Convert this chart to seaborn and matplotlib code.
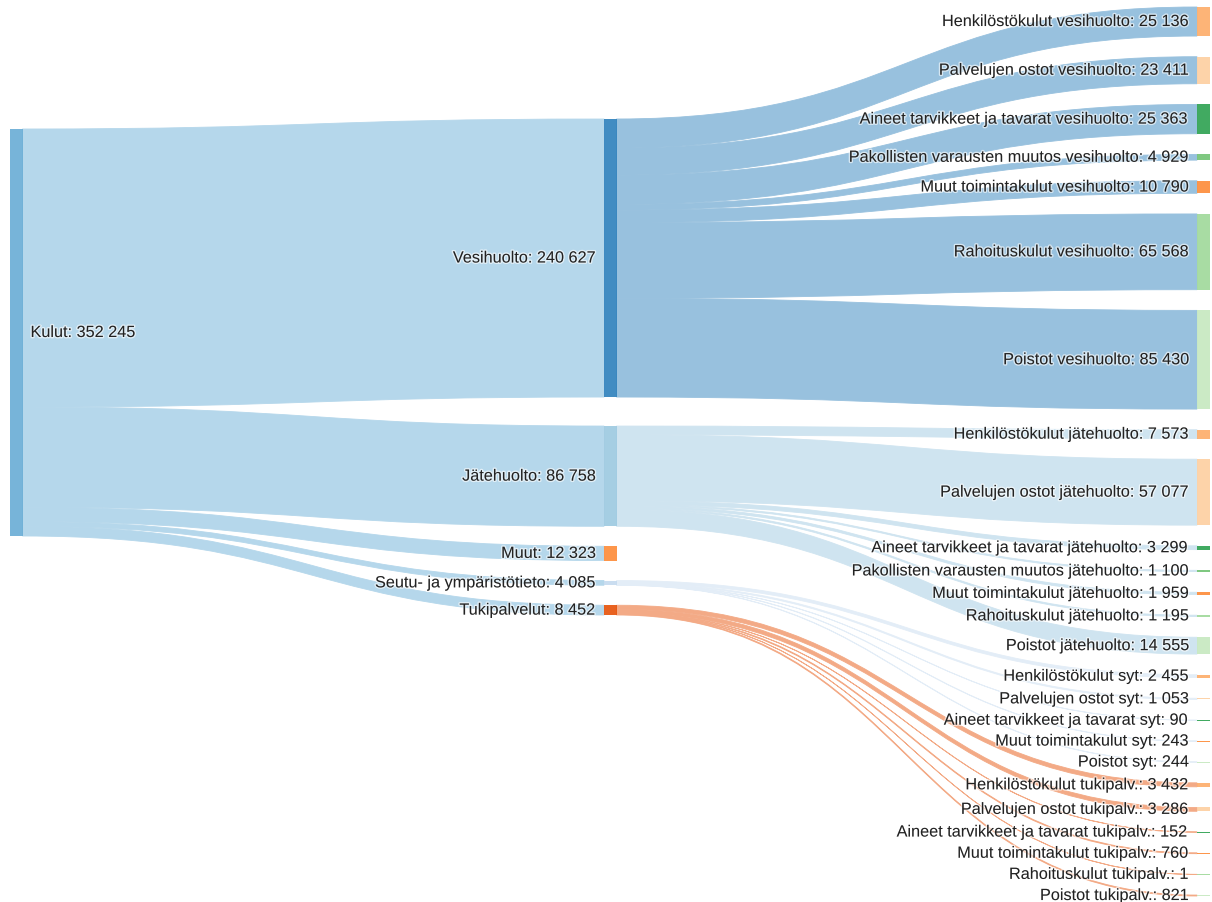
import matplotlib
matplotlib.use("Agg")
import matplotlib.pyplot as plt
import matplotlib.patheffects as pe
from matplotlib.path import Path
from matplotlib.patches import PathPatch, Rectangle
import seaborn as sns

# --- data ---------------------------------------------------------------
root_name = "Kulut"
root_value = 352245

level1_names = ["Vesihuolto", "Jätehuolto", "Muut", "Seutu- ja ympäristötieto", "Tukipalvelut"]
level1_values = [240627, 86758, 12323, 4085, 8452]

vesi_names = ["Henkilöstökulut vesihuolto", "Palvelujen ostot vesihuolto",
              "Aineet tarvikkeet ja tavarat vesihuolto", "Pakollisten varausten muutos vesihuolto",
              "Muut toimintakulut vesihuolto", "Rahoituskulut vesihuolto", "Poistot vesihuolto"]
vesi_values = [25136, 23411, 25363, 4929, 10790, 65568, 85430]

jate_names = ["Henkilöstökulut jätehuolto", "Palvelujen ostot jätehuolto",
              "Aineet tarvikkeet ja tavarat jätehuolto", "Pakollisten varausten muutos jätehuolto",
              "Muut toimintakulut jätehuolto", "Rahoituskulut jätehuolto", "Poistot jätehuolto"]
jate_values = [7573, 57077, 3299, 1100, 1959, 1195, 14555]

syt_names = ["Henkilöstökulut syt", "Palvelujen ostot syt", "Aineet tarvikkeet ja tavarat syt",
             "Muut toimintakulut syt", "Poistot syt"]
syt_values = [2455, 1053, 90, 243, 244]

tuki_names = ["Henkilöstökulut tukipalv.", "Palvelujen ostot tukipalv.",
              "Aineet tarvikkeet ja tavarat tukipalv.", "Muut toimintakulut tukipalv.",
              "Rahoituskulut tukipalv.", "Poistot tukipalv."]
tuki_values = [3432, 3286, 152, 760, 1, 821]

# cost type of each level-2 node (used for colour)
vesi_types = ["henk", "palv", "aine", "pako", "muut", "raho", "pois"]
jate_types = ["henk", "palv", "aine", "pako", "muut", "raho", "pois"]
syt_types = ["henk", "palv", "aine", "muut", "pois"]
tuki_types = ["henk", "palv", "aine", "muut", "raho", "pois"]

# --- style --------------------------------------------------------------
pal = sns.color_palette("tab20c")
root_color = pal[1]
level1_colors = [pal[0], pal[2], pal[5], pal[3], pal[4]]
type_colors = {"henk": pal[6], "palv": pal[7], "aine": pal[8], "pako": pal[9],
               "muut": pal[5], "raho": pal[10], "pois": pal[11]}

W, H = 1212, 903
scale = 407.0 / root_value          # pixels per unit
node_w = 12.5
col_x = [10, 604, 1197]
root_top = 130
col1_top = 120
col1_gaps = [29, 20, 20, 20]
col2_top = 8
col2_bottom = 897
link_mix = 0.5                      # share of node colour in link colour (rest white)
node_alpha = 0.92

sns.set_theme(style="white")
plt.rcParams["font.family"] = ["Liberation Sans", "DejaVu Sans"]

fig = plt.figure(figsize=(W / 100, H / 100), dpi=100)
ax = fig.add_axes([0, 0, 1, 1])
ax.set_xlim(0, W)
ax.set_ylim(H, 0)
ax.axis("off")


def fmt(v):
    return f"{v:,}".replace(",", " ")


def lighten(c):
    return tuple(link_mix * x + (1 - link_mix) for x in c[:3])


def draw_link(x0, y0a, y0b, x1, y1a, y1b, color):
    xm = (x0 + x1) / 2
    verts = [(x0, y0a), (xm, y0a), (xm, y1a), (x1, y1a),
             (x1, y1b), (xm, y1b), (xm, y0b), (x0, y0b), (x0, y0a)]
    codes = [Path.MOVETO, Path.CURVE4, Path.CURVE4, Path.CURVE4,
             Path.LINETO, Path.CURVE4, Path.CURVE4, Path.CURVE4, Path.CLOSEPOLY]
    c = lighten(color)
    ax.add_patch(PathPatch(Path(verts, codes), facecolor=c, edgecolor=c,
                           linewidth=0.6, zorder=1))


def draw_node(x, y, h, color):
    ax.add_patch(Rectangle((x, y), node_w, max(h, 0.8), facecolor=color,
                           edgecolor="none", alpha=node_alpha, zorder=3))


halo = [pe.withStroke(linewidth=2, foreground="white", alpha=0.6)]


def label(x, y, text, ha):
    ax.text(x, y, text, ha=ha, va="center", fontsize=11.7, color="#222222",
            zorder=4, path_effects=halo)


# --- layout: column 1 ----------------------------------------------------
l1_tops = []
y = col1_top
for i, v in enumerate(level1_values):
    l1_tops.append(y)
    y += v * scale
    if i < len(col1_gaps):
        y += col1_gaps[i]

# --- layout: column 2 ----------------------------------------------------
groups = [(0, vesi_names, vesi_values, vesi_types),
          (1, jate_names, jate_values, jate_types),
          (3, syt_names, syt_values, syt_types),
          (4, tuki_names, tuki_values, tuki_types)]
n2 = sum(len(g[1]) for g in groups)
tot2 = sum(sum(g[2]) for g in groups)
gap2 = (col2_bottom - col2_top - tot2 * scale) / (n2 - 1)

# root -> level 1 links
y_src = root_top
for i, v in enumerate(level1_values):
    h = v * scale
    draw_link(col_x[0] + node_w, y_src, y_src + h, col_x[1], l1_tops[i], l1_tops[i] + h,
              root_color)
    y_src += h

# level 1 -> level 2 links and nodes
y2 = col2_top
for parent, names, values, types in groups:
    ys = l1_tops[parent]
    for name, v, t in zip(names, values, types):
        h = v * scale
        draw_link(col_x[1] + node_w, ys, ys + h, col_x[2], y2, y2 + h, level1_colors[parent])
        draw_node(col_x[2], y2, h, type_colors[t])
        label(col_x[2] - 8, y2 + h / 2, f"{name}: {fmt(v)}", "right")
        ys += h
        y2 += h + gap2

# root node
draw_node(col_x[0], root_top, root_value * scale, root_color)
label(col_x[0] + node_w + 8, root_top + root_value * scale / 2,
      f"{root_name}: {fmt(root_value)}", "left")

# level 1 nodes
for i, (name, v) in enumerate(zip(level1_names, level1_values)):
    h = v * scale
    draw_node(col_x[1], l1_tops[i], h, level1_colors[i])
    label(col_x[1] - 8, l1_tops[i] + h / 2, f"{name}: {fmt(v)}", "right")

fig.savefig("out.png", dpi=100, facecolor="white")
